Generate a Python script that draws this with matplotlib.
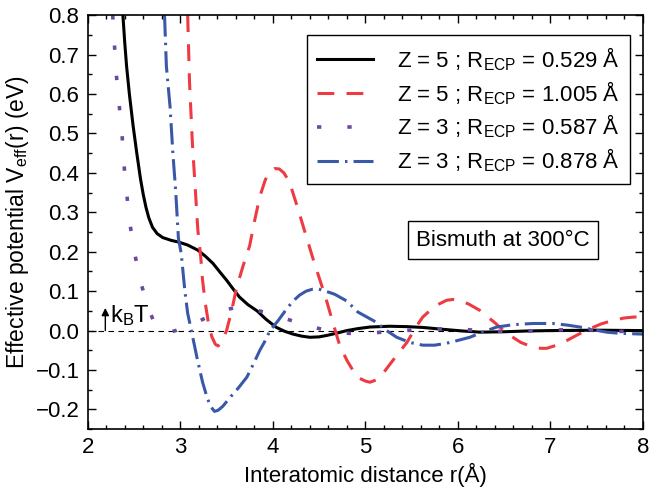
import numpy as np
import matplotlib
matplotlib.use("Agg")
from matplotlib import pyplot as plt
from matplotlib.ticker import MultipleLocator, FuncFormatter

# --------- data ---------

# Z = 5 ; R_ECP = 0.529 A  (solid black)
r_z5a = [2.38, 2.40, 2.42, 2.45, 2.49, 2.53, 2.57, 2.60, 2.63, 2.66, 2.70, 2.75, 2.81, 2.90, 2.99,
         3.08, 3.19, 3.27, 3.355, 3.43, 3.50, 3.57, 3.64, 3.73, 3.83, 3.93, 4.04, 4.13,
         4.22, 4.31, 4.40, 4.50, 4.59, 4.70, 4.80, 4.92, 5.05, 5.26, 5.45, 5.62, 5.85,
         6.05, 6.24, 6.50, 6.75, 7.00, 7.50, 8.00]
v_z5a = [0.80, 0.73, 0.67, 0.60, 0.52, 0.45, 0.385, 0.345, 0.312, 0.286, 0.262, 0.246, 0.236, 0.229, 0.224,
         0.217, 0.204, 0.189, 0.170, 0.148, 0.128, 0.106, 0.085, 0.066, 0.050, 0.028, 0.008, -0.002,
         -0.009, -0.014, -0.017, -0.016, -0.012, -0.006, 0.000, 0.005, 0.009, 0.011, 0.010, 0.008, 0.003,
         -0.001, -0.004, -0.003, -0.001, 0.000, 0.001, 0.000]

# Z = 5 ; R_ECP = 1.005 A  (red dashed)
r_z5b = [3.08, 3.10, 3.13, 3.17, 3.19, 3.22, 3.24, 3.27, 3.30, 3.34, 3.38, 3.41, 3.45, 3.50,
         3.55, 3.61, 3.68, 3.75, 3.80, 3.86, 3.92, 3.97, 4.02, 4.07, 4.12, 4.18, 4.26, 4.35,
         4.43, 4.50, 4.57, 4.65, 4.72, 4.80, 4.91, 5.00, 5.05, 5.12, 5.19, 5.30, 5.45, 5.55,
         5.62, 5.75, 5.88, 5.95, 6.02, 6.12, 6.24, 6.40, 6.53, 6.68, 6.81, 6.90, 6.96, 7.07,
         7.18, 7.30, 7.43, 7.55, 7.68, 7.80, 7.89, 8.00]
v_z5b = [0.80, 0.63, 0.48, 0.33, 0.255, 0.19, 0.13, 0.07, 0.026, -0.015, -0.035, -0.039, -0.028, 0.000,
         0.045, 0.110, 0.165, 0.215, 0.275, 0.340, 0.383, 0.403, 0.411, 0.410, 0.400, 0.377, 0.318, 0.248,
         0.186, 0.135, 0.085, 0.020, -0.035, -0.075, -0.118, -0.128, -0.131, -0.125, -0.109, -0.075, -0.030, 0.010,
         0.034, 0.062, 0.077, 0.079, 0.077, 0.067, 0.051, 0.020, -0.007, -0.030, -0.042, -0.045, -0.045, -0.037,
         -0.025, -0.010, 0.005, 0.017, 0.026, 0.032, 0.034, 0.036]

# Z = 3 ; R_ECP = 0.587 A  (purple dotted)
r_z3a = [2.27, 2.29, 2.31, 2.34, 2.37, 2.39, 2.42, 2.45, 2.50, 2.56, 2.65, 2.72, 2.80, 2.87,
         2.95, 3.05, 3.18, 3.29, 3.45, 3.60, 3.75, 3.91, 4.05, 4.22, 4.29, 4.45, 4.59, 4.75,
         4.91, 5.07, 5.23, 5.40, 5.59, 5.75, 5.91, 6.07, 6.24, 6.42, 6.60, 6.78, 6.96, 7.13,
         7.30, 7.48, 7.65, 7.82, 8.00]
v_z3a = [0.80, 0.72, 0.646, 0.572, 0.50, 0.425, 0.351, 0.28, 0.205, 0.133, 0.059, 0.020, 0.000, -0.005,
         0.000, 0.010, 0.021, 0.034, 0.050, 0.059, 0.055, 0.047, 0.037, 0.024, 0.018, 0.008, 0.000, -0.006,
         -0.008, -0.006, -0.003, 0.000, 0.002, 0.004, 0.005, 0.003, 0.000, -0.002, -0.002, -0.001, 0.000, 0.002,
         0.003, 0.001, -0.002, -0.002, -0.001]

# Z = 3 ; R_ECP = 0.878 A  (blue dash-dot)
r_z3b = [2.83, 2.85, 2.89, 2.92, 2.95, 2.98, 3.01, 3.05, 3.08, 3.12, 3.18, 3.24, 3.29, 3.33,
         3.37, 3.41, 3.46, 3.54, 3.63, 3.72, 3.79, 3.86, 3.91, 3.97, 4.06, 4.15, 4.22, 4.29,
         4.36, 4.43, 4.49, 4.55, 4.61, 4.67, 4.80, 4.92, 5.12, 5.23, 5.34, 5.48, 5.62, 5.75,
         5.88, 6.00, 6.13, 6.28, 6.42, 6.60, 6.81, 7.03, 7.18, 7.32, 7.47, 7.61, 7.75, 7.89, 8.00]
v_z3b = [0.80, 0.67, 0.567, 0.45, 0.356, 0.234, 0.196, 0.10, 0.044, 0.000, -0.068, -0.13, -0.17, -0.193,
         -0.205, -0.202, -0.192, -0.169, -0.145, -0.118, -0.085, -0.050, -0.029, 0.000, 0.026, 0.055, 0.075, 0.090,
         0.100, 0.105, 0.106, 0.101, 0.097, 0.092, 0.075, 0.047, 0.021, 0.000, -0.017, -0.030, -0.037, -0.037,
         -0.032, -0.025, -0.017, -0.003, 0.009, 0.015, 0.018, 0.018, 0.014, 0.009, 0.002, -0.004, -0.007, -0.008, -0.009]

labels = [r"Z = 5 ; R$_{\rm ECP}$ = 0.529 Å",
          r"Z = 5 ; R$_{\rm ECP}$ = 1.005 Å",
          r"Z = 3 ; R$_{\rm ECP}$ = 0.587 Å",
          r"Z = 3 ; R$_{\rm ECP}$ = 0.878 Å"]

kbt = 0.0494  # eV at 300 C

# --------- plot ---------

plt.rcParams['font.family'] = ['Liberation Sans', 'DejaVu Sans']
plt.rcParams['mathtext.fontset'] = 'custom'
plt.rcParams['mathtext.rm'] = 'Liberation Sans'
plt.rcParams['mathtext.it'] = 'Liberation Sans:italic'
plt.rcParams['font.size'] = 16

fig = plt.figure(figsize=(6.5, 4.91), dpi=100)
ax = fig.add_axes([0.135, 0.126, 0.854, 0.843])

ax.axhline(0, color='k', lw=0.8, ls=(0, (5, 4)), zorder=1)

ax.plot(r_z5a, v_z5a, color='black', lw=2.2, label=labels[0])
ax.plot(r_z5b, v_z5b, color='#ee3a43', lw=2.2, ls=(0, (5.5, 4)), label=labels[1])
ax.plot(r_z3a, v_z3a, color='#6a4aa0', lw=2.6, ls=(0, (1.2, 7.2)), label=labels[2])
ax.plot(r_z3b, v_z3b, color='#3a58a8', lw=2.2, ls=(0, (7, 2, 0.8, 2)), label=labels[3])

# kB T marker
ax.annotate("", xy=(2.19, kbt + 0.008), xytext=(2.19, 0),
            arrowprops=dict(arrowstyle='-|>', color='k', lw=1, mutation_scale=11,
                            shrinkA=0, shrinkB=0))
ax.text(2.24, 0.021, r"k$_{\rm B}$T", fontsize=17, va='baseline')

ax.text(6.49, 0.229, "Bismuth at 300°C", fontsize=16, ha='center', va='center',
        bbox=dict(boxstyle='square,pad=0.38', fc='white', ec='black', lw=1))

ax.set_xlim(2, 8)
ax.set_ylim(-0.25, 0.8)
ax.xaxis.set_major_locator(MultipleLocator(1))
ax.xaxis.set_minor_locator(MultipleLocator(0.2))
ax.yaxis.set_major_locator(MultipleLocator(0.1))
ax.yaxis.set_minor_locator(MultipleLocator(0.05))

def yfmt(v, pos):
    if v < -1e-9:
        return "\u2212{:.1f}".format(abs(v))
    return "{:.1f}".format(abs(v))
ax.yaxis.set_major_formatter(FuncFormatter(yfmt))

ax.tick_params(which='both', direction='in', top=True, right=True, width=1)
ax.tick_params(which='major', length=6, pad=6, labelsize=16)
ax.tick_params(which='minor', length=3)
for s in ax.spines.values():
    s.set_linewidth(1.2)

ax.set_xlabel("Interatomic distance r(Å)", fontsize=16, labelpad=3)
ax.set_ylabel(r"Effective potential V$_{\rm eff}$(r) (eV)", fontsize=16.5, labelpad=3)

leg = ax.legend(loc='upper right', bbox_to_anchor=(0.977, 0.952), borderaxespad=0,
                fancybox=False, edgecolor='black', framealpha=1, fontsize=16,
                handlelength=2.5, handletextpad=1.1, labelspacing=0.28, borderpad=0.45)
leg.get_frame().set_linewidth(1)

fig.savefig("out.png", dpi=100)
